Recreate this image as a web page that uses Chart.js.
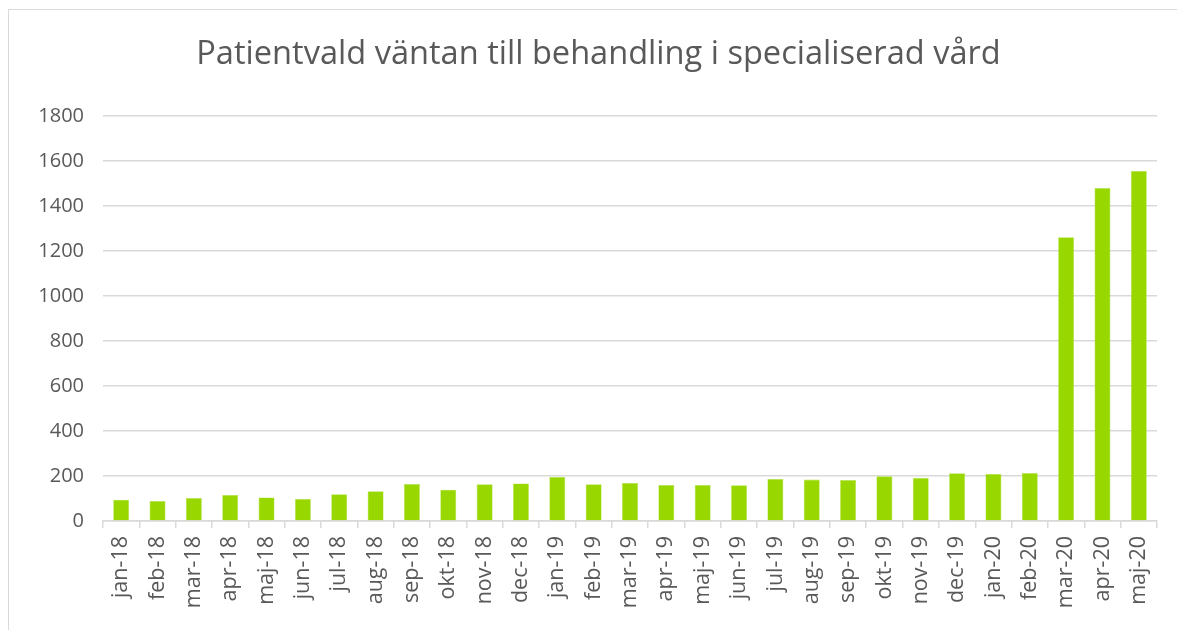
<!DOCTYPE html>
<html>
<head>
<meta charset="utf-8">
<script src="https://cdn.jsdelivr.net/npm/chart.js@4"></script>
<style>
    html, body { margin: 0; padding: 0; background: #fff; overflow: hidden; }
    #frame {
        position: absolute; left: 8px; top: 9px; width: 1200px; height: 660px;
        border: 1px solid #d9d9d9; box-sizing: border-box;
    }
    #wrap { position: absolute; left: 0; top: 0; width: 1177px; height: 630px; }
</style>
</head>
<body>
<div id="frame"></div>
<div id="wrap"><canvas id="waitChart"></canvas></div>
<script>
// data
const months = [
    'jan-18', 'feb-18', 'mar-18', 'apr-18', 'maj-18', 'jun-18', 'jul-18', 'aug-18', 'sep-18', 'okt-18',
    'nov-18', 'dec-18', 'jan-19', 'feb-19', 'mar-19', 'apr-19', 'maj-19', 'jun-19', 'jul-19', 'aug-19',
    'sep-19', 'okt-19', 'nov-19', 'dec-19', 'jan-20', 'feb-20', 'mar-20', 'apr-20', 'maj-20'
];
const patients = [
    95, 89, 102, 116, 105, 98, 119, 132, 164, 139,
    163, 167, 196, 163, 169, 160, 160, 159, 187, 184,
    182, 199, 192, 212, 209, 213, 1262, 1480, 1556
];
const yTicks = [0, 200, 400, 600, 800, 1000, 1200, 1400, 1600, 1800];

const textColor = '#595959';
const gridColor = '#d9d9d9';
const fontFamily = '"Open Sans", "Liberation Sans", sans-serif';

new Chart(document.getElementById('waitChart'), {
    type: 'bar',
    data: {
        labels: months,
        datasets: [{
            data: patients,
            backgroundColor: '#99d700',
            borderColor: '#b5e34d',
            borderWidth: 0.6,
            categoryPercentage: 1,
            barPercentage: 0.44
        }]
    },
    options: {
        responsive: true,
        maintainAspectRatio: false,
        animation: false,
        // left padding keeps the title centred like the original
        layout: { padding: { left: 40, right: 20, top: 0, bottom: 0 } },
        plugins: {
            legend: { display: false },
            tooltip: { enabled: false },
            title: {
                display: true,
                text: 'Patientvald väntan till behandling i specialiserad vård',
                color: textColor,
                font: { family: fontFamily, size: 32.6, weight: 'normal', lineHeight: 1.2 },
                padding: { top: 35, bottom: 42 }
            }
        },
        scales: {
            x: {
                offset: true,
                grid: {
                    offset: true,
                    drawOnChartArea: false,
                    drawTicks: true,
                    tickLength: 7,
                    color: gridColor,
                    lineWidth: 1.5
                },
                border: { color: gridColor, width: 1.5 },
                ticks: {
                    color: textColor,
                    font: { family: fontFamily, size: 21.5 },
                    minRotation: 90,
                    maxRotation: 90,
                    autoSkip: false,
                    padding: 8
                },
                afterFit: (scale) => { scale.height = 109; }
            },
            y: {
                min: 0,
                max: 1800,
                afterBuildTicks: (scale) => { scale.ticks = yTicks.map(v => ({ value: v })); },
                grid: {
                    color: gridColor,
                    drawTicks: false,
                    lineWidth: 1.5
                },
                border: { display: false },
                ticks: {
                    color: textColor,
                    font: { family: fontFamily, size: 20 },
                    padding: 19,
                    callback: (value) => String(value)
                },
                afterFit: (scale) => { scale.width = 63; }
            }
        }
    }
});
</script>
</body>
</html>
